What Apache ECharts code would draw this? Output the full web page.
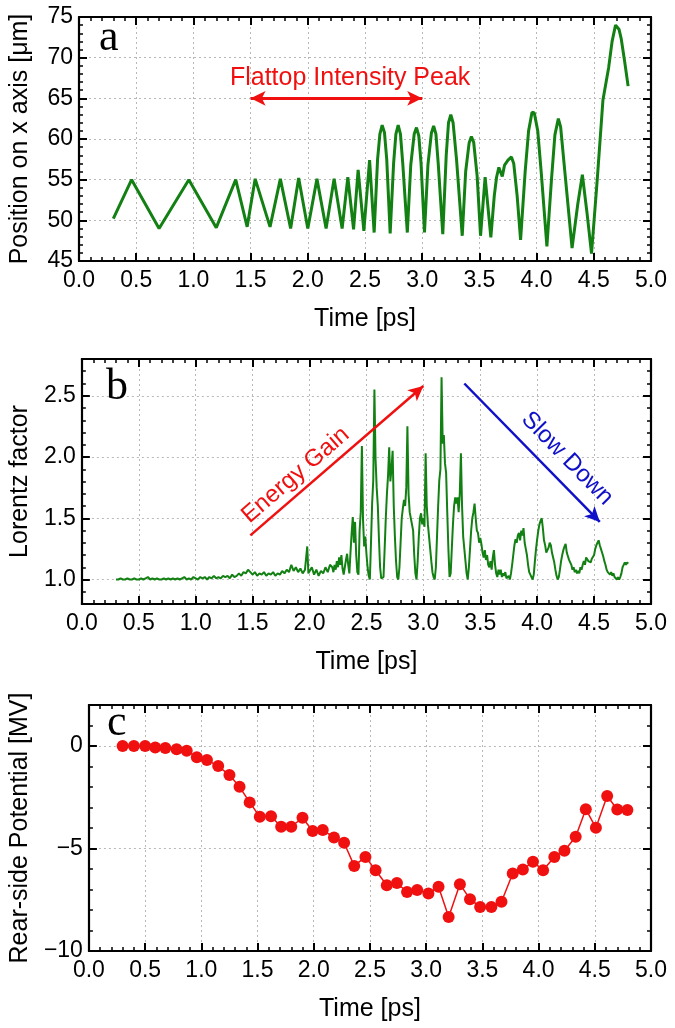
<!DOCTYPE html>
<html><head><meta charset="utf-8">
<script src="https://cdn.jsdelivr.net/npm/echarts@6/dist/echarts.min.js"></script>
<style>html,body{margin:0;padding:0;background:#fff}#c{width:675px;height:1028px}</style>
</head><body><div id="c"></div>
<script>
// ---- Panel a: position on x axis [um] vs time [ps]
const trajectory = [
[0.30,50.2],[0.46,55.0],[0.70,49.0],[0.96,55.0],[1.20,49.1],[1.37,55.0],[1.47,49.2],[1.54,55.1],
[1.67,49.2],[1.76,55.1],[1.85,49.0],[1.92,55.2],[2.00,49.0],[2.08,55.1],[2.16,49.0],[2.23,55.1],
[2.30,49.0],[2.35,55.3],[2.40,48.9],[2.44,56.2],[2.49,48.7],[2.54,57.4],[2.58,48.5],
[2.61,57.5],[2.63,60.6],[2.65,61.7],[2.67,60.8],[2.69,57.5],[2.72,48.4],
[2.75,57.0],[2.77,60.6],[2.79,61.7],[2.81,60.6],[2.83,57.0],[2.87,48.5],
[2.90,56.8],[2.93,60.6],[2.95,61.4],[2.97,60.4],[2.99,57.0],[3.02,48.5],
[3.05,56.8],[3.08,60.7],[3.10,61.6],[3.12,60.6],[3.14,57.0],[3.18,48.3],
[3.21,58.0],[3.23,62.0],[3.25,63.0],[3.27,62.0],[3.30,57.5],[3.35,48.1],
[3.38,56.0],[3.41,59.5],[3.43,60.3],[3.45,59.6],[3.48,55.5],[3.51,48.1],
[3.55,55.3],[3.60,47.9],
[3.63,53.0],[3.65,55.3],[3.67,56.5],[3.68,56.7],[3.70,55.4],[3.72,56.8],[3.75,57.4],[3.78,57.8],[3.80,57.0],[3.83,53.0],[3.86,47.6],
[3.90,56.0],[3.93,61.0],[3.96,63.3],[3.98,63.2],[4.01,61.0],[4.04,56.0],[4.09,46.8],
[4.13,55.0],[4.16,60.5],[4.19,62.5],[4.21,61.5],[4.24,57.0],[4.31,46.6],
[4.36,52.0],[4.40,55.6],[4.44,51.0],[4.48,45.9],
[4.53,55.0],[4.58,64.8],[4.63,68.8],[4.66,72.0],[4.69,74.0],[4.72,73.5],[4.74,72.3],[4.77,69.5],[4.80,66.5]
];
const flattopArrow = [[1.5,65],[3.0,65]];
const flattopLabel = [2.37,65];

// ---- Panel b: Lorentz factor vs time [ps]
const lorentz = [
[0.30,1.00],[0.32,1.00],[0.34,1.01],[0.36,1.00],[0.38,1.00],[0.40,1.01],[0.42,1.00],[0.44,1.00],[0.46,1.01],[0.48,1.00],
[0.50,1.00],[0.52,1.01],[0.54,1.00],[0.56,1.01],[0.58,1.02],[0.60,1.00],[0.62,1.01],[0.64,1.00],[0.66,1.01],[0.68,1.00],
[0.70,1.00],[0.72,1.01],[0.74,1.00],[0.76,1.01],[0.78,1.00],[0.80,1.01],[0.82,1.00],[0.84,1.01],[0.86,1.00],[0.88,1.01],
[0.90,1.02],[0.92,1.00],[0.94,1.01],[0.96,1.00],[0.98,1.02],[1.00,1.01],[1.02,1.00],[1.04,1.02],[1.06,1.01],[1.08,1.02],
[1.10,1.00],[1.12,1.02],[1.14,1.01],[1.16,1.03],[1.18,1.01],[1.20,1.02],[1.22,1.01],[1.24,1.03],[1.26,1.02],[1.28,1.03],
[1.30,1.01],[1.32,1.04],[1.34,1.02],[1.36,1.03],[1.38,1.05],[1.40,1.03],[1.42,1.06],[1.44,1.05],[1.46,1.08],[1.48,1.06],
[1.50,1.04],[1.52,1.06],[1.54,1.03],[1.56,1.05],[1.58,1.04],[1.60,1.06],[1.62,1.03],[1.64,1.05],[1.66,1.04],[1.68,1.06],
[1.70,1.03],[1.72,1.05],[1.74,1.04],[1.76,1.07],[1.78,1.05],[1.80,1.08],[1.82,1.06],[1.84,1.12],[1.86,1.07],[1.88,1.10],
[1.90,1.06],[1.92,1.09],[1.94,1.05],[1.96,1.08],[1.98,1.27],[1.99,1.05],[2.00,1.06],[2.02,1.10],[2.04,1.04],[2.06,1.08],
[2.08,1.03],[2.10,1.07],[2.12,1.05],[2.14,1.10],[2.16,1.06],[2.18,1.12],
[2.20,1.10],[2.21,1.06],[2.22,1.12],[2.23,1.08],[2.24,1.15],[2.25,1.10],[2.26,1.18],[2.27,1.12],[2.28,1.20],[2.29,1.09],
[2.30,1.04],[2.31,1.10],[2.32,1.16],[2.33,1.21],[2.34,1.12],[2.35,1.05],[2.36,1.22],[2.37,1.38],[2.38,1.51],[2.39,1.30],
[2.40,1.47],[2.41,1.20],[2.42,1.06],[2.43,1.04],[2.44,1.40],[2.45,1.55],[2.46,2.09],[2.47,1.49],[2.48,1.27],[2.49,1.35],
[2.50,1.21],[2.51,1.10],[2.52,1.03],[2.53,1.00],[2.54,1.30],[2.55,1.62],[2.56,1.81],[2.57,2.55],[2.58,1.99],[2.59,1.75],
[2.60,1.60],[2.61,1.33],[2.62,1.10],[2.63,1.01],[2.64,1.00],
[2.65,1.02],[2.66,1.25],[2.67,1.50],[2.68,1.70],[2.69,1.85],[2.70,2.08],[2.71,1.80],[2.72,1.90],[2.73,2.05],[2.74,1.60],
[2.75,1.35],[2.76,1.15],[2.77,1.02],[2.78,1.00],
[2.79,1.10],[2.80,1.30],[2.81,1.50],[2.82,1.58],[2.83,1.65],[2.84,1.60],[2.85,1.75],[2.86,2.25],[2.87,1.70],[2.88,1.55],
[2.89,1.50],[2.90,1.45],[2.91,1.40],[2.92,1.20],[2.93,1.05],[2.94,1.00],
[2.95,1.15],[2.96,1.35],[2.97,1.50],[2.98,1.54],[2.99,1.45],[3.00,1.50],[3.01,1.43],[3.02,2.03],[3.03,1.60],[3.04,1.45],
[3.05,1.35],[3.06,1.25],[3.07,1.15],[3.08,1.06],[3.09,1.02],[3.10,1.00],
[3.11,1.10],[3.12,1.35],[3.13,1.60],[3.14,1.81],[3.15,1.90],[3.16,2.65],[3.17,2.11],[3.18,2.18],[3.19,1.95],[3.20,1.87],
[3.21,1.55],[3.22,1.25],[3.23,1.02],
[3.24,1.05],[3.25,1.25],[3.26,1.45],[3.27,1.60],[3.28,1.67],[3.29,1.62],[3.30,1.67],[3.31,1.55],[3.32,1.70],[3.33,2.03],
[3.34,1.60],[3.35,1.35],[3.36,1.25],[3.37,1.15],[3.38,1.05],[3.39,1.00],
[3.40,1.10],[3.41,1.25],[3.42,1.40],[3.43,1.50],[3.44,1.55],[3.45,1.62],[3.46,1.50],[3.47,1.40],[3.48,1.38],[3.49,1.30],
[3.50,1.34],[3.51,1.29],[3.52,1.22],[3.53,1.18],[3.54,1.24],[3.55,1.16],[3.56,1.20],[3.57,1.12],[3.58,1.10],[3.59,1.15],
[3.60,1.08],[3.61,1.18],[3.62,1.24],[3.63,1.12],[3.64,1.05],[3.65,1.02],[3.66,1.08],[3.67,1.04],[3.68,1.08],[3.69,1.02],
[3.70,1.05],[3.71,1.03],[3.72,1.06],[3.73,1.01],[3.74,1.00],[3.75,1.03],[3.76,1.00],
[3.77,1.05],[3.78,1.12],[3.79,1.20],[3.80,1.28],[3.81,1.33],[3.82,1.30],[3.83,1.36],[3.84,1.38],[3.85,1.32],[3.86,1.40],
[3.87,1.36],[3.88,1.42],[3.89,1.30],[3.90,1.25],[3.91,1.20],[3.92,1.12],[3.93,1.06],[3.94,1.05],[3.95,1.02],[3.96,1.00],
[3.97,1.04],[3.98,1.15],[3.99,1.25],[4.00,1.33],[4.01,1.40],[4.02,1.45],[4.03,1.48],[4.04,1.50],[4.05,1.42],[4.06,1.32],
[4.07,1.28],[4.08,1.22],[4.09,1.21],[4.10,1.26],[4.11,1.30],[4.12,1.28],[4.13,1.22],[4.14,1.18],[4.15,1.14],[4.16,1.08],
[4.17,1.03],[4.18,1.00],[4.19,1.02],
[4.20,1.08],[4.21,1.15],[4.22,1.20],[4.23,1.24],[4.24,1.27],[4.25,1.29],[4.26,1.22],[4.27,1.19],[4.28,1.16],[4.29,1.17],
[4.30,1.12],[4.31,1.08],[4.32,1.10],[4.33,1.06],[4.34,1.08],[4.35,1.05],[4.36,1.07],[4.37,1.05],[4.38,1.10],[4.39,1.08],
[4.40,1.12],[4.41,1.15],[4.42,1.12],[4.43,1.18],[4.44,1.19],[4.45,1.15],[4.46,1.16],[4.47,1.14],[4.48,1.17],[4.49,1.16],
[4.50,1.20],[4.51,1.25],[4.52,1.28],[4.53,1.30],[4.54,1.32],[4.55,1.28],[4.56,1.25],[4.57,1.22],[4.58,1.19],[4.59,1.15],
[4.60,1.12],[4.61,1.08],[4.62,1.06],[4.63,1.05],[4.64,1.04],[4.65,1.06],[4.66,1.03],[4.67,1.05],[4.68,1.02],[4.69,1.03],
[4.70,1.00],[4.71,1.02],[4.72,1.00],[4.73,1.02],[4.74,1.05],[4.75,1.10],[4.76,1.12],[4.77,1.14],[4.78,1.12],[4.79,1.14],
[4.80,1.13]
];
const energyGainArrow = [[1.48,1.36],[3.0,2.58]];
const slowDownArrow = [[3.36,2.60],[4.55,1.47]];

// ---- Panel c: rear-side potential [MV] vs time [ps]
const potentialTime = [0.30,0.40,0.50,0.59,0.68,0.78,0.87,0.96,1.05,1.15,1.25,1.34,1.43,1.52,1.62,1.71,1.80,1.90,1.99,2.08,
  2.18,2.27,2.36,2.46,2.55,2.65,2.74,2.83,2.92,3.02,3.11,3.20,3.30,3.39,3.48,3.58,3.67,3.77,3.86,3.95,
  4.04,4.14,4.23,4.33,4.42,4.51,4.61,4.70,4.79];
const potential = [0,0,0,-0.07,-0.10,-0.16,-0.23,-0.55,-0.68,-0.98,-1.42,-1.99,-2.75,-3.45,-3.43,-3.94,-3.94,-3.50,-4.15,-4.10,
  -4.46,-4.72,-5.85,-5.41,-6.06,-6.79,-6.68,-7.12,-7.03,-7.20,-6.87,-8.34,-6.74,-7.47,-7.85,-7.85,-7.60,-6.22,-6.02,-5.65,
  -6.06,-5.41,-5.11,-4.43,-3.08,-3.99,-2.44,-3.10,-3.12];

const panelLetters = ['a','b','c'];
const yNames = ['Position on x axis [\u03bcm]','Lorentz factor','Rear-side Potential [MV]'];

const FONT = "'Liberation Sans', Arial, sans-serif";
const LETTERFONT = "'Liberation Serif', 'DejaVu Serif', serif";
const RED = '#f01010', BLUE = '#1010c8', GREEN = '#138013';
const grids = [
  {left:79, top:17, width:572, height:244},
  {left:79, top:359, width:572, height:245},
  {left:79, top:705, width:572, height:246}
];

function tickCommon(){
  return {
    axisLine:{show:true, onZero:false, lineStyle:{color:'#000', width:2.2}},
    axisTick:{show:true, inside:true, length:8, lineStyle:{color:'#000', width:2}},
    minorTick:{show:true, splitNumber:5, length:4, lineStyle:{color:'#000', width:1.5}},
  };
}
const xAxes = [], yAxes = [];
const yRanges = [
  {min:45, max:75, interval:5, fmt:v=>String(v), hideMax:false},
  {min:0.8, max:2.8, splitNumber:4, fmt:v=>v.toFixed(1), hideMax:true},
  {min:-10, max:2, interval:5, fmt:v=>v<0?'\u2212'+Math.abs(v):String(v), hideMax:true}
];
for (let g=0; g<3; g++){
  xAxes.push(Object.assign({
    type:'value', gridIndex:g, min:0, max:5, interval:0.5, position:'bottom',
    name:'Time [ps]', nameLocation:'middle', nameGap:46,
    nameTextStyle:{fontSize:25, color:'#000', fontFamily:FONT},
    axisLabel:{color:'#000', fontSize:23, fontFamily:FONT, margin:8, formatter:v=>v.toFixed(1)},
    splitLine:{show:true, lineStyle:{color:'#b8b8b8', type:[2,3], width:1}}
  }, tickCommon()));
  xAxes.push(Object.assign({
    type:'value', gridIndex:g, min:0, max:5, interval:0.5, position:'top',
    axisLabel:{show:false}, splitLine:{show:false}
  }, tickCommon()));
  const r = yRanges[g];
  const yb = {type:'value', gridIndex:g, min:r.min, max:r.max};
  if (r.interval) yb.interval = r.interval; else yb.splitNumber = r.splitNumber;
  yAxes.push(Object.assign({}, yb, {
    position:'left', name:yNames[g], nameLocation:'middle', nameGap:46, nameRotate:90,
    nameTextStyle:{fontSize:25, color:'#000', fontFamily:FONT},
    axisLabel:{color:'#000', fontSize:23, fontFamily:FONT, margin:6, formatter:r.fmt,
      showMinLabel: g!==1, showMaxLabel: !r.hideMax},
    splitLine:{show:true, lineStyle:{color:'#b8b8b8', type:[2,3], width:1}}
  }, tickCommon()));
  yAxes.push(Object.assign({}, yb, {
    position:'right', axisLabel:{show:false}, splitLine:{show:false}
  }, tickCommon()));
}

const chart = echarts.init(document.getElementById('c'), null, {renderer:'canvas'});
chart.setOption({
  animation:false,
  backgroundColor:'#fff',
  grid:grids,
  xAxis:xAxes,
  yAxis:yAxes,
  graphic: panelLetters.map((l,i)=>({
    type:'text', left:[99,106,107][i], top:[16,365,701][i], z:10,
    style:{text:l, fontSize:44, fontFamily:LETTERFONT, fill:'#000'}
  })),
  series:[
    {
      type:'line', xAxisIndex:0, yAxisIndex:0, data:trajectory, showSymbol:false, symbol:'none',
      lineStyle:{color:GREEN, width:3}, z:3,
      markLine:{
        silent:true, symbol:['arrow','arrow'], symbolSize:[11,15], animation:false,
        lineStyle:{color:RED, width:3, type:'solid'}, label:{show:false},
        data:[[{coord:flattopArrow[0]},{coord:flattopArrow[1]}]]
      },
      markPoint:{
        silent:true, symbol:'circle', symbolSize:0, animation:false,
        label:{show:true, position:'top', distance:8, color:RED, fontSize:25, fontFamily:FONT, formatter:'{b}'},
        data:[{name:'Flattop Intensity Peak', coord:flattopLabel}]
      }
    },
    {
      type:'line', xAxisIndex:2, yAxisIndex:2, data:lorentz, showSymbol:false, symbol:'none',
      lineStyle:{color:GREEN, width:2}, z:3,
      markLine:{
        silent:true, symbol:['none','arrow'], symbolSize:[11,15], animation:false,
        data:[
          [{coord:energyGainArrow[0], lineStyle:{color:RED, width:2.5, type:'solid'},
            label:{show:true, position:'insideStartTop', distance:[7,4], formatter:'Energy Gain', color:RED, fontSize:24, fontFamily:FONT}},
           {coord:energyGainArrow[1]}],
          [{coord:slowDownArrow[0], lineStyle:{color:BLUE, width:2.5, type:'solid'},
            label:{show:true, position:'insideEndTop', distance:[8,9], formatter:'Slow Down', color:BLUE, fontSize:24, fontFamily:FONT}},
           {coord:slowDownArrow[1]}]
        ]
      }
    },
    {
      type:'line', xAxisIndex:4, yAxisIndex:4,
      data:potentialTime.map((t,i)=>[t, potential[i]]),
      symbol:'circle', symbolSize:12, showSymbol:true,
      itemStyle:{color:RED}, lineStyle:{color:RED, width:1.5}, z:3
    }
  ]
});
</script>
</body></html>
